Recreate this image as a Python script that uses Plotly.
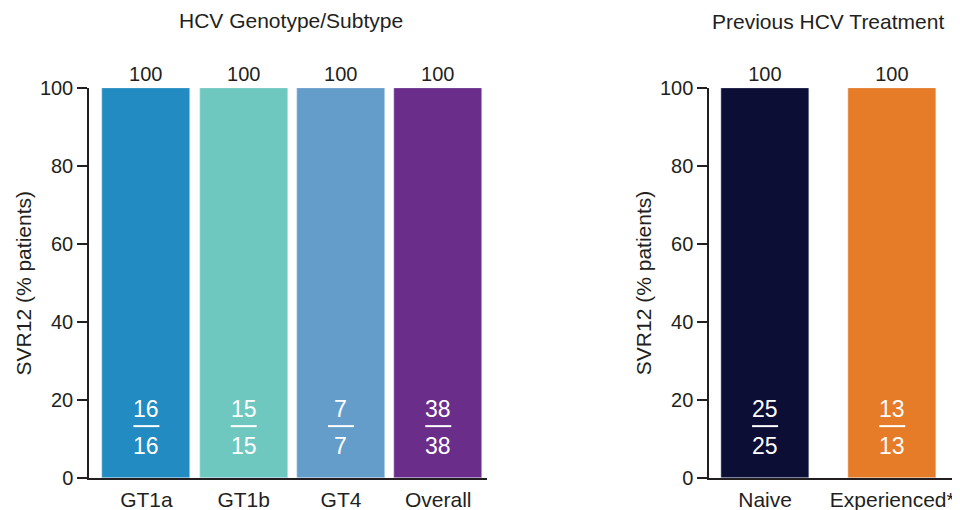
import plotly.graph_objects as go

# Data
geno_cats = ["GT1a", "GT1b", "GT4", "Overall"]
geno_svr = [100, 100, 100, 100]
geno_n = [16, 15, 7, 38]
geno_N = [16, 15, 7, 38]
geno_colors = ["#228bc1", "#6fc8bf", "#659dca", "#6a2d8a"]

tx_cats = ["Naive", "Experienced*"]
tx_svr = [100, 100]
tx_n = [25, 13]
tx_N = [25, 13]
tx_colors = ["#0c0e35", "#e67c27"]

y_ticks = [0, 20, 40, 60, 80, 100]

FONT = "Liberation Sans, Arial, sans-serif"
DARK = "#231f20"

# page offset (browser body margin) compensation
OFF = 8
# desired plot-area edges in screenshot pixels
L_img, R_img, T_img, B_img = 88.6, 952, 88, 478
L, R, T, B = L_img - OFF, R_img - OFF, T_img - OFF, B_img - OFF
W, H = R - L, B - T

def px(x_img):
    return (x_img - OFF - L) / W

def py(y_img):
    return (B - (y_img - OFF)) / H

fig = go.Figure()

fig.add_trace(go.Bar(
    x=geno_cats, y=geno_svr, marker_color=geno_colors, width=0.905,
    text=[str(v) for v in geno_svr], textposition="outside",
    textfont=dict(size=20, color=DARK, family=FONT), cliponaxis=False,
    xaxis="x", yaxis="y", showlegend=False, hoverinfo="skip"))

fig.add_trace(go.Bar(
    x=tx_cats, y=tx_svr, marker_color=tx_colors, width=0.693,
    text=[str(v) for v in tx_svr], textposition="outside",
    textfont=dict(size=20, color=DARK, family=FONT), cliponaxis=False,
    xaxis="x2", yaxis="y2", showlegend=False, hoverinfo="skip"))

annotations = []
shapes = []

def add_fracs(cats, nums, dens, xref, yref):
    for c, n, d in zip(cats, nums, dens):
        annotations.append(dict(x=c, y=17.8, xref=xref, yref=yref, text=str(n),
                                showarrow=False, font=dict(size=23, color="white", family=FONT),
                                yanchor="middle"))
        annotations.append(dict(x=c, y=8.2, xref=xref, yref=yref, text=str(d),
                                showarrow=False, font=dict(size=23, color="white", family=FONT),
                                yanchor="middle"))
        shapes.append(dict(type="line", xref=xref, yref=yref, xsizemode="pixel",
                           xanchor=c, x0=-13, x1=13, y0=13.3, y1=13.3,
                           line=dict(color="white", width=2)))

add_fracs(geno_cats, geno_n, geno_N, "x", "y")
add_fracs(tx_cats, tx_n, tx_N, "x2", "y2")

annotations.append(dict(x=px(291), y=py(21), xref="paper", yref="paper",
                        text="HCV Genotype/Subtype", showarrow=False,
                        font=dict(size=21, color=DARK, family=FONT),
                        xanchor="center", yanchor="middle"))
annotations.append(dict(x=px(828), y=py(22), xref="paper", yref="paper",
                        text="Previous HCV Treatment", showarrow=False,
                        font=dict(size=21, color=DARK, family=FONT),
                        xanchor="center", yanchor="middle"))
for xc in (23, 643):
    annotations.append(dict(x=px(xc), y=py(283), xref="paper", yref="paper",
                            text="SVR12 (% patients)", showarrow=False, textangle=-90,
                            font=dict(size=21, color=DARK, family=FONT),
                            xanchor="center", yanchor="middle"))

yax = dict(range=[0, 100], tickvals=y_ticks, showline=True, linecolor=DARK, linewidth=1.5,
           ticks="outside", ticklen=10, tickwidth=1.5, tickcolor=DARK,
           showgrid=False, zeroline=False, automargin=False,
           tickfont=dict(size=20, color=DARK, family=FONT))

xax = dict(showline=True, linecolor=DARK, linewidth=1.5, ticks="outside", ticklen=2,
           tickcolor="rgba(0,0,0,0)", showgrid=False, automargin=False,
           zeroline=False, tickfont=dict(size=21, color=DARK, family=FONT))

fig.update_layout(
    width=960, height=510,
    margin=dict(l=L, r=960 - R, t=T, b=510 - B, autoexpand=False),
    paper_bgcolor="white", plot_bgcolor="white",
    bargap=0,
    xaxis=dict(**xax, domain=[0, px(486.7)], range=[-0.59, 3.5]),
    xaxis2=dict(**xax, domain=[px(709), 1], range=[-0.44, 1.47], anchor="y2"),
    yaxis=dict(**yax, anchor="x"),
    yaxis2=dict(**yax, anchor="x2"),
    annotations=annotations,
    shapes=shapes,
)

fig.write_html("out.html")
